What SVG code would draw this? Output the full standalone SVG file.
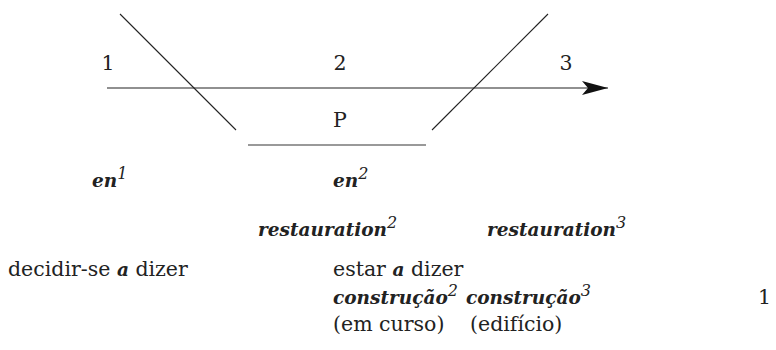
<svg xmlns="http://www.w3.org/2000/svg" width="776" height="350" viewBox="0 0 776 350">
<style>
text{font-family:"DejaVu Serif","Liberation Serif",serif;font-size:20.5px;fill:#222}
.c{text-anchor:middle}
.bi{font-style:italic;font-weight:bold;font-size:18.5px}
.sup{font-style:italic;font-weight:normal;font-size:16px}
.ln{stroke:#222;stroke-width:1.1;fill:none}
</style>
<defs>
<marker id="ah" markerWidth="26" markerHeight="14" refX="26" refY="7" orient="auto" markerUnits="userSpaceOnUse">
<path d="M0,0 L26,7 L0,14 L6,7 Z" fill="#111"/>
</marker>
</defs>
<g id="connectors">
<line class="ln" x1="120" y1="14" x2="236" y2="130"/>
<line class="ln" x1="548" y1="14" x2="432" y2="130"/>
<line class="ln" x1="107" y1="88" x2="608" y2="88" marker-end="url(#ah)"/>
<line x1="248" y1="145" x2="426" y2="145" stroke="#777" stroke-width="1.3"/>
</g>
<g id="n1"><text class="c" x="108" y="70">1</text></g>
<g id="n2"><text class="c" x="340" y="70">2</text></g>
<g id="n3"><text class="c" x="566" y="70">3</text></g>
<g id="nP"><text class="c" x="340" y="127">P</text></g>
<g id="en1"><text x="92" y="187"><tspan class="bi">en</tspan><tspan class="sup" dy="-8">1</tspan></text></g>
<g id="en2"><text x="333" y="187"><tspan class="bi">en</tspan><tspan class="sup" dy="-8">2</tspan></text></g>
<g id="rest2"><text x="258" y="236"><tspan class="bi">restauration</tspan><tspan class="sup" dy="-8">2</tspan></text></g>
<g id="rest3"><text x="487" y="236"><tspan class="bi">restauration</tspan><tspan class="sup" dy="-8">3</tspan></text></g>
<g id="decidir"><text x="8" y="276">decidir-se <tspan class="bi">a</tspan> dizer</text></g>
<g id="estar"><text x="333" y="276">estar <tspan class="bi">a</tspan> dizer</text></g>
<g id="constr2"><text x="333" y="304"><tspan class="bi">construção</tspan><tspan class="sup" dy="-8">2</tspan></text></g>
<g id="constr3"><text x="466" y="304"><tspan class="bi">construção</tspan><tspan class="sup" dy="-8">3</tspan></text></g>
<g id="one"><text x="758" y="304">1</text></g>
<g id="emcurso"><text x="333" y="331">(em curso)</text></g>
<g id="edificio"><text x="470" y="331">(edifício)</text></g>
</svg>
